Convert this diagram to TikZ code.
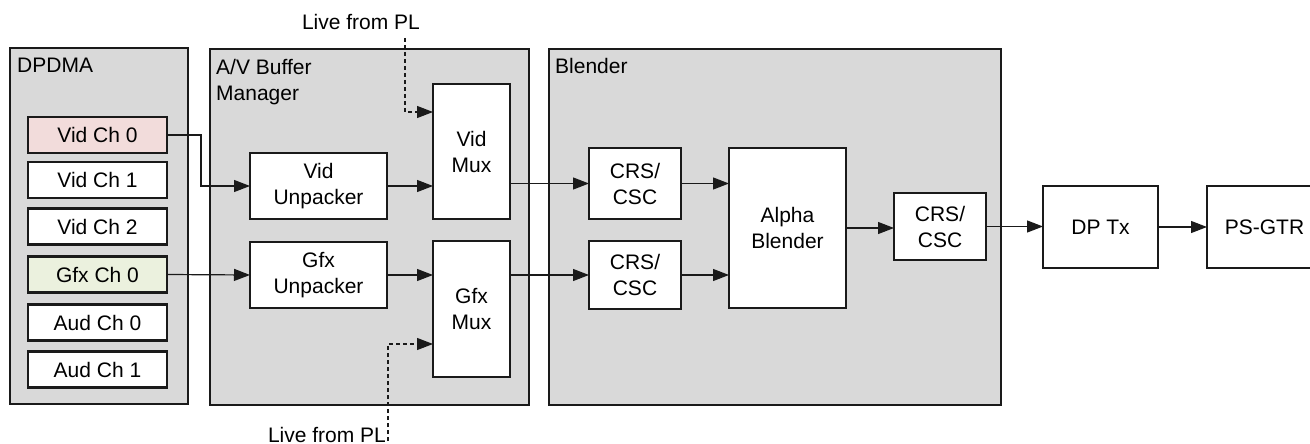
\documentclass[tikz,border=0pt]{standalone}
\usepackage{fontspec}
\setmainfont{Liberation Sans}
\usetikzlibrary{arrows.meta}
\definecolor{contgray}{HTML}{D9D9D9}
\definecolor{vidpink}{HTML}{F2DCDB}
\definecolor{gfxgreen}{HTML}{EBF1DE}
\definecolor{ink}{HTML}{1A1A1A}
\begin{document}
\begin{tikzpicture}[x=1pt,y=-1pt,
  font=\fontsize{21}{26}\selectfont,
  container/.style={draw=ink,line width=2.5pt,fill=contgray,inner sep=0pt,outer sep=0pt},
  blk/.style={draw=ink,line width=2.5pt,fill=white,inner sep=0pt,outer sep=0pt,align=center},
  chan/.style={blk,minimum width=139pt,minimum height=36pt},
  lbl/.style={inner sep=0pt,anchor=base west},
  arr/.style={draw=ink,line width=1.2pt,-{Triangle[length=16pt,width=12pt]}},
  dasharr/.style={arr,dash pattern=on 4pt off 3pt}]
\useasboundingbox (0,0) rectangle (1310,444);
% containers
\node[container,minimum width=178pt,minimum height=356pt] (dpdma) at (99,226) {};
\node[container,minimum width=319pt,minimum height=356pt] (avbm) at (369.5,227) {};
\node[container,minimum width=452pt,minimum height=356pt] (blender) at (775,227) {};
\node[lbl] (dpdmalbl) at (17,73) {DPDMA};
\node[lbl,align=left,anchor=north west] (avlbl) at (216,59) {A/V Buffer\\Manager};
\node[lbl] (blendlbl) at (555,74) {Blender};
% DPDMA channels
\node[chan,fill=vidpink] (vc0) at (97.5,135) {Vid Ch 0};
\node[chan] (vc1) at (97.5,180) {Vid Ch 1};
\node[chan] (vc2) at (97.5,226.5) {Vid Ch 2};
\node[chan,fill=gfxgreen] (gc0) at (97.5,274.5) {Gfx Ch 0};
\node[chan] (ac0) at (97.5,322.5) {Aud Ch 0};
\node[chan] (ac1) at (97.5,369.5) {Aud Ch 1};
% A/V buffer manager
\node[blk,minimum width=137pt,minimum height=66pt] (vunp) at (318.5,186) {Vid\\Unpacker};
\node[blk,minimum width=137pt,minimum height=66pt] (gunp) at (318.5,275) {Gfx\\Unpacker};
\node[blk,minimum width=77pt,minimum height=135pt] (vmux) at (471.5,151.5) {Vid\\Mux};
\node[blk,minimum width=77pt,minimum height=136pt] (gmux) at (471.5,309) {Gfx\\Mux};
% Blender
\node[blk,minimum width=92pt,minimum height=71pt] (crs1) at (635,183.5) {CRS/\\CSC};
\node[blk,minimum width=92pt,minimum height=68pt] (crs2) at (635,275) {CRS/\\CSC};
\node[blk,minimum width=117pt,minimum height=160pt] (alpha) at (787.5,228) {Alpha\\Blender};
\node[blk,minimum width=92pt,minimum height=67pt] (crs3) at (940,226.5) {CRS/\\CSC};
% outputs
\node[blk,minimum width=115pt,minimum height=82pt] (dptx) at (1100.5,227) {DP Tx};
\node[blk,minimum width=115pt,minimum height=82pt] (psgtr) at (1264.5,227) {PS-GTR};
% live labels
\node[inner sep=0pt,anchor=base] (livetoplbl) at (361,30) {Live from PL};
\node[inner sep=0pt,anchor=base] (livebotlbl) at (327,442) {Live from PL};
\coordinate (livetop) at (405,38);
\coordinate (livebot) at (388,441);
% connectors
\draw[arr] (vc0.east) -- ++(34,0) |- (vunp.west);
\draw[arr] (gc0.east) -- (gunp.west);
\draw[arr] (vunp.east) -- (vunp.east -| vmux.west);
\draw[arr] (gunp.east) -- (gunp.east -| gmux.west);
\draw[arr] (crs1.west -| vmux.east) -- (crs1.west);
\draw[arr] (crs2.west -| gmux.east) -- (crs2.west);
\draw[arr] (crs1.east) -- (crs1.east -| alpha.west);
\draw[arr] (crs2.east) -- (crs2.east -| alpha.west);
\draw[arr] (alpha.east) -- (alpha.east -| crs3.west);
\draw[arr] (crs3.east) -- (crs3.east -| dptx.west);
\draw[arr] (dptx.east) -- (psgtr.west);
\draw[dasharr] (livetop) |- ([yshift=39.5pt]vmux.west);
\draw[dasharr] (livebot) |- ([yshift=-35pt]gmux.west);
\end{tikzpicture}
\end{document}
